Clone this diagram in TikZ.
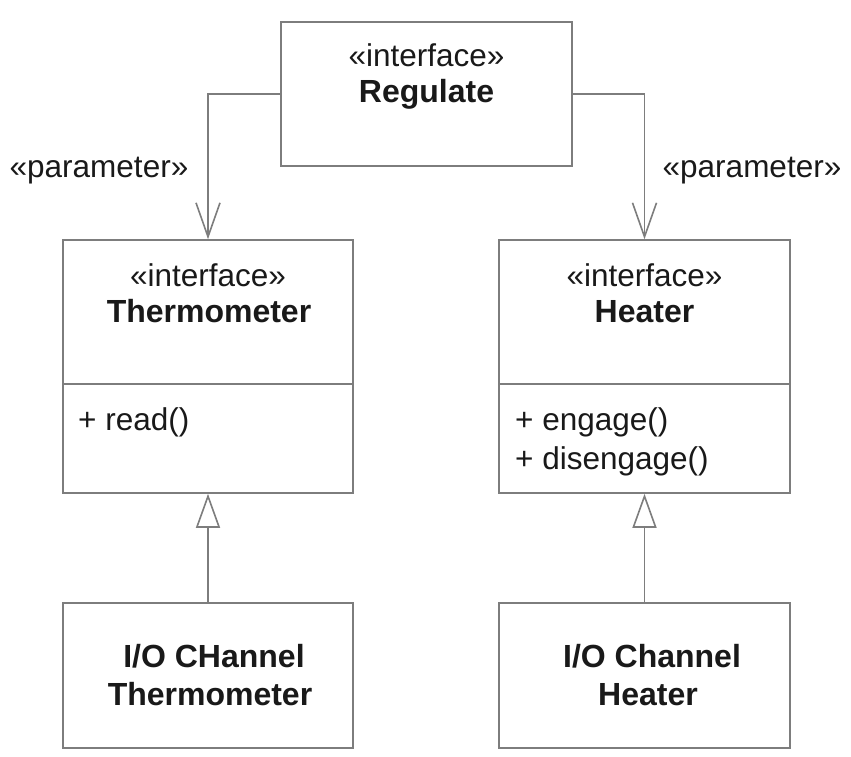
\documentclass[tikz,border=0pt]{standalone}
\usepackage{fontspec}
\setmainfont{Liberation Sans}
\usetikzlibrary{arrows.meta}
\definecolor{linegray}{RGB}{125,125,125}
\definecolor{txt}{RGB}{25,25,25}
\tikzset{
  box/.style={draw=linegray, line width=1.6pt, fill=white, inner sep=0pt},
  lbl/.style={text=txt, inner sep=0pt, anchor=base, font=\fontsize{31.5}{35}\selectfont},
  blbl/.style={lbl, font=\fontsize{32}{35}\selectfont\bfseries},
  conn/.style={draw=linegray, line width=1.6pt},
  depend/.style={conn, -{Straight Barb[length=34pt, width=24pt, line width=1.6pt]}},
  realize/.style={conn, -{Triangle[open, length=34pt, width=24pt, fill=white, line width=1.6pt]}},
  divider/.style={draw=linegray, line width=1.6pt}
}
\begin{document}
\begin{tikzpicture}[x=1pt,y=-1pt]
\useasboundingbox (0,0) rectangle (851,757);
% boxes
\node[box, minimum width=291pt, minimum height=144pt] (reg) at (426.5,94) {};
\node[box, minimum width=290pt, minimum height=253pt] (thermo) at (208,366.5) {};
\node[box, minimum width=291pt, minimum height=253pt] (heater) at (644.5,366.5) {};
\node[box, minimum width=290pt, minimum height=145pt] (iothermo) at (208,675.5) {};
\node[box, minimum width=291pt, minimum height=145pt] (ioheater) at (644.5,675.5) {};
% dividers
\coordinate (tdl) at (63,384);
\coordinate (tdr) at (353,384);
\coordinate (hdl) at (499,384);
\coordinate (hdr) at (790,384);
\draw[divider] (tdl) -- (tdr);
\draw[divider] (hdl) -- (hdr);
% texts
\node[lbl] (regst) at (426.5,67) {«interface»};
\node[blbl] (regname) at (426.5,103) {Regulate};
\node[lbl] (thst) at (208,286) {«interface»};
\node[blbl] (thname) at (209,322) {Thermometer};
\node[lbl] (hest) at (644.5,286) {«interface»};
\node[blbl] (hename) at (644.5,322) {Heater};
\node[lbl, anchor=base west] (thop) at (78,430) {+ read()};
\node[lbl, anchor=base west] (heop1) at (515,430) {+ engage()};
\node[lbl, anchor=base west] (heop2) at (515,469) {+ disengage()};
\node[blbl] (iot1) at (214,667) {I/O CHannel};
\node[blbl] (iot2) at (210,705) {Thermometer};
\node[blbl] (ioh1) at (652,667) {I/O Channel};
\node[blbl] (ioh2) at (648,705) {Heater};
\node[lbl] (parL) at (99,177) {«parameter»};
\node[lbl] (parR) at (752,177) {«parameter»};
% connectors
\draw[depend] (reg.west) -| (thermo.north);
\draw[depend] (reg.east) -| (heater.north);
\draw[realize] (iothermo.north) -- (thermo.south);
\draw[realize] (ioheater.north) -- (heater.south);
\end{tikzpicture}
\end{document}
